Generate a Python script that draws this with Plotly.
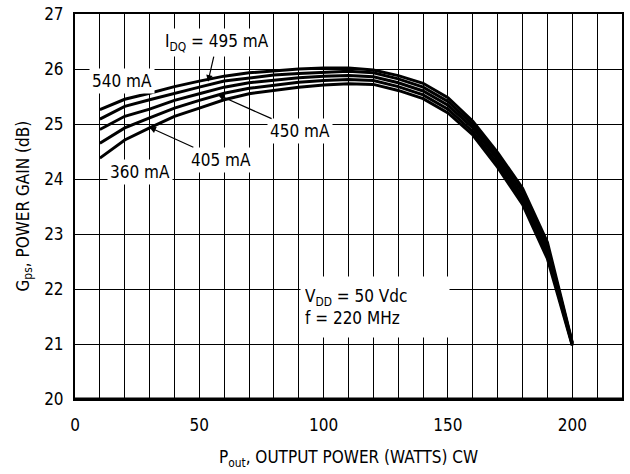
import plotly.graph_objects as go

pout = [10, 20, 30, 40, 50, 60, 70, 80, 90, 100, 110, 120, 130, 140, 150, 160, 170, 180, 190, 200]
gain_540 = [25.26, 25.45, 25.56, 25.68, 25.78, 25.87, 25.93, 25.97, 26.00, 26.02, 26.02, 25.98, 25.88, 25.74, 25.48, 25.05, 24.48, 23.83, 22.85, 21.03]
gain_495 = [25.09, 25.32, 25.44, 25.56, 25.67, 25.78, 25.84, 25.89, 25.92, 25.94, 25.96, 25.93, 25.82, 25.67, 25.41, 24.99, 24.41, 23.76, 22.78, 21.01]
gain_450 = [24.90, 25.14, 25.27, 25.43, 25.55, 25.67, 25.75, 25.80, 25.84, 25.87, 25.88, 25.86, 25.75, 25.60, 25.34, 24.93, 24.35, 23.68, 22.70, 21.00]
gain_405 = [24.65, 24.93, 25.11, 25.29, 25.43, 25.56, 25.65, 25.71, 25.76, 25.79, 25.81, 25.79, 25.68, 25.53, 25.27, 24.86, 24.28, 23.61, 22.62, 20.99]
gain_360 = [24.38, 24.71, 24.93, 25.14, 25.29, 25.44, 25.55, 25.61, 25.67, 25.71, 25.73, 25.72, 25.61, 25.46, 25.20, 24.80, 24.21, 23.54, 22.55, 20.97]

series = [("540 mA", gain_540), ("495 mA", gain_495), ("450 mA", gain_450),
          ("405 mA", gain_405), ("360 mA", gain_360)]

x_ticks = [0, 50, 100, 150, 200]
y_ticks = [20, 21, 22, 23, 24, 25, 26, 27]

FONT = "DejaVu Sans Condensed, Liberation Sans Narrow, Liberation Sans, sans-serif"
FS = 17

fig = go.Figure()
for name, g in series:
    fig.add_trace(go.Scatter(x=pout, y=g, mode="lines", name=name,
                             line=dict(color="black", width=3), showlegend=False))

txt = dict(font=dict(family=FONT, size=FS, color="black"), bgcolor="white", borderpad=2)
arr = dict(showarrow=True, arrowhead=2, arrowsize=1.1, arrowwidth=1.2,
           arrowcolor="black", axref="x", ayref="y")

fig.add_annotation(x=53.5, y=25.77, ax=57.1, ay=26.48, text="I<sub>DQ</sub> = 495 mA", **arr, **txt)
fig.add_annotation(x=18.9, y=25.79, text="540 mA", showarrow=False, **txt)
fig.add_annotation(x=57.5, y=25.53, ax=90.4, ay=24.87, text="450 mA", **arr, **txt)
fig.add_annotation(x=29.9, y=24.94, ax=58.7, ay=24.35, text="405 mA", **arr, **txt)
fig.add_annotation(x=26.1, y=24.12, text="360 mA", showarrow=False, **txt)
fig.add_annotation(x=90.4, y=21.68, text="V<sub>DD</sub> = 50 Vdc<br>f = 220 MHz",
                   showarrow=False, xanchor="left", yanchor="middle", align="left",
                   width=140, height=52,
                   font=dict(family=FONT, size=FS, color="black"), bgcolor="white",
                   borderpad=4)
# y-axis title
fig.add_annotation(x=0, y=0.5, xref="paper", yref="paper", xshift=-51,
                   text="G<sub>ps</sub>, POWER GAIN (dB)", textangle=-90,
                   showarrow=False, xanchor="center", yanchor="middle",
                   font=dict(family=FONT, size=FS, color="black"))

fig.update_layout(
    width=630, height=474,
    margin=dict(l=75, r=8, t=14, b=75),
    paper_bgcolor="white", plot_bgcolor="white",
    font=dict(family=FONT, size=FS, color="black"),
    xaxis=dict(range=[0, 220], tickvals=x_ticks, ticks="", showgrid=True,
               gridcolor="black", gridwidth=1.3,
               minor=dict(dtick=10, tick0=0, showgrid=True, gridcolor="black", gridwidth=1.3),
               showline=True, linecolor="black", linewidth=1.5, mirror=True,
               zeroline=False, ticklabelstandoff=10, automargin=False,
               ticklabeloverflow="allow",
               title=dict(text="P<sub>out</sub>, OUTPUT POWER (WATTS) CW", standoff=17,
                          font=dict(family=FONT, size=FS))),
    yaxis=dict(range=[20, 27], tickvals=y_ticks, ticks="", showgrid=True,
               gridcolor="black", gridwidth=1.3,
               showline=True, linecolor="black", linewidth=2, mirror=True,
               zeroline=False, ticklabelstandoff=6, automargin=False,
               ticklabeloverflow="allow"),
)
fig.add_shape(type="line", xref="paper", yref="paper", x0=0, x1=1, y0=0, y1=0,
              line=dict(color="black", width=3))

fig.write_html("out.html", config={"displayModeBar": False},
               post_script="document.body.style.margin='0';document.body.style.overflow='hidden';")
